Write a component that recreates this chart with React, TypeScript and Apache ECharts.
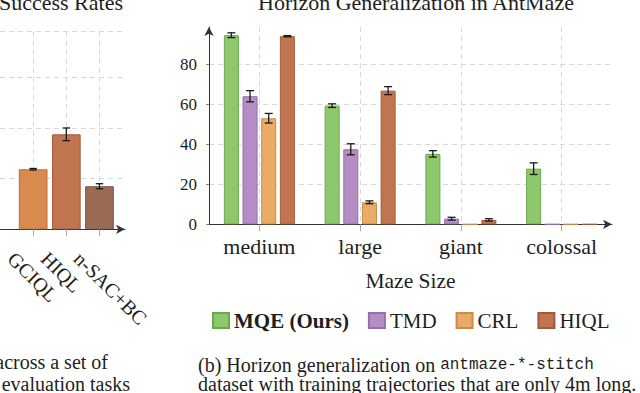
import React, { useEffect, useRef } from 'react';
import * as echarts from 'echarts';

// ---- Right panel: Horizon Generalization in AntMaze ----
const mazeSizes = ['medium', 'large', 'giant', 'colossal'];
const methods = ['MQE (Ours)', 'TMD', 'CRL', 'HIQL'];
const mqeValues = [94.5, 59.3, 35.2, 27.8];
const mqeErrors = [1.2, 0.9, 1.6, 2.9];
const tmdValues = [64.0, 37.5, 2.8, 0];
const tmdErrors = [2.8, 2.75, 0.7, 0];
const crlValues = [53.0, 11.0, 0, 0];
const crlErrors = [2.4, 0.7, 0, 0];
const hiqlValues = [94.0, 66.8, 2.2, 0];
const hiqlErrors = [0.3, 2.0, 0.6, 0];
const yTickValues = [0, 20, 40, 60, 80];
const yGridValues = [20, 40, 60, 80];

// ---- Left panel (cropped): Success Rates ----
const successMethods = ['GCIQL', 'HIQL', 'n-SAC+BC'];
const successPositions = [1, 2, 3];
const successValues = [23.7, 37.5, 17.0];
const successErrors = [0.3, 2.5, 1.0];
const successGridValues = [20, 40, 60];

const SERIF = "'Liberation Serif', 'Times New Roman', serif";
const MONO = "'Liberation Mono', 'DejaVu Sans Mono', monospace";
const TEXT = '#1e1e1e';
const GRID = '#d8d8d8';
const AXIS = '#333333';

const fills = ['#8fc86c', '#b48dc4', '#e9ab65', '#c0744f'];
const borders = ['#6aa84f', '#9370a6', '#c88c4c', '#a35a3a'];
const leftFills = ['#d98a4f', '#c0744f', '#9b6c55'];
const leftBorders = ['#b96f3a', '#a35a3a', '#7e5443'];

const BAR_W = 15;
const BAR_GAP = 0.244;

function errorRenderer(offset: number, cap: number) {
  return (params: any, api: any) => {
    const x0 = api.value(0);
    const v = api.value(1);
    const e = api.value(2);
    if (!e) return null;
    const top = api.coord([x0, v + e]);
    const bot = api.coord([x0, v - e]);
    const x = top[0] + offset;
    const style = { stroke: '#1a1a1a', lineWidth: 1.3 };
    return {
      type: 'group',
      children: [
        { type: 'line', shape: { x1: x, y1: top[1], x2: x, y2: bot[1] }, style },
        { type: 'line', shape: { x1: x - cap, y1: top[1], x2: x + cap, y2: top[1] }, style },
        { type: 'line', shape: { x1: x - cap, y1: bot[1], x2: x + cap, y2: bot[1] }, style },
      ],
    };
  };
}

export default function App() {
  const ref = useRef<HTMLDivElement>(null);

  useEffect(() => {
    if (!ref.current) return;
    const chart = echarts.init(ref.current, undefined, { renderer: 'svg' });

    const values = [mqeValues, tmdValues, crlValues, hiqlValues];
    const errors = [mqeErrors, tmdErrors, crlErrors, hiqlErrors];
    const pitch = BAR_W * (1 + BAR_GAP);

    const barSeries = methods.map((m, k) => ({
      name: m,
      type: 'bar',
      xAxisIndex: 0,
      yAxisIndex: 0,
      barWidth: BAR_W,
      barGap: `${BAR_GAP * 100}%`,
      itemStyle: { color: fills[k], borderColor: borders[k], borderWidth: 1 },
      data: values[k],
      z: 2,
    }));

    const errSeries = methods.map((m, k) => ({
      name: `err-${m}`,
      type: 'custom',
      xAxisIndex: 0,
      yAxisIndex: 0,
      z: 5,
      silent: true,
      renderItem: errorRenderer((k - 1.5) * pitch, 4),
      encode: { x: 0, y: 1 },
      data: mazeSizes.map((_, i) => [i, values[k][i], errors[k][i]]),
    }));

    const option: any = {
      animation: false,
      backgroundColor: '#ffffff',
      textStyle: { fontFamily: SERIF },
      title: [
        {
          text: 'Horizon Generalization in AntMaze',
          left: 411,
          top: -14,
          textAlign: 'center',
          textStyle: { fontFamily: SERIF, fontSize: 22, fontWeight: 'normal', color: TEXT },
        },
        {
          text: 'Success Rates',
          left: 118,
          top: -14,
          textAlign: 'right',
          textStyle: { fontFamily: SERIF, fontSize: 22, fontWeight: 'normal', color: TEXT },
        },
      ],
      legend: {
        left: 212,
        top: 310,
        padding: 0,
        itemWidth: 16,
        itemHeight: 15,
        itemGap: 19,
        icon: 'rect',
        textStyle: { fontFamily: SERIF, fontSize: 21, color: TEXT },
        data: [
          { name: 'MQE (Ours)', textStyle: { fontWeight: 'bold' } },
          'TMD',
          'CRL',
          'HIQL',
        ],
      },
      grid: [
        { left: 209, right: 28, top: 27, bottom: 168.7 },
        { left: -17, right: 515, top: 31.7, bottom: 163.7 },
      ],
      xAxis: [
        {
          type: 'category',
          gridIndex: 0,
          data: mazeSizes,
          boundaryGap: true,
          name: 'Maze Size',
          nameLocation: 'middle',
          nameGap: 46,
          nameTextStyle: { fontFamily: SERIF, fontSize: 21.5, color: TEXT },
          axisLine: {
            show: true,
            symbol: ['none', 'arrow'],
            symbolSize: [7, 9],
            lineStyle: { color: AXIS, width: 1 },
          },
          axisTick: { show: true, alignWithLabel: true, length: 7, lineStyle: { color: '#aaaaaa' } },
          axisLabel: { fontFamily: SERIF, fontSize: 22, color: TEXT, margin: 11 },
          splitLine: {
            show: true,
            alignWithLabel: true,
            lineStyle: { color: GRID, type: [5, 4], width: 1 },
          },
        },
        {
          type: 'value',
          gridIndex: 1,
          min: 0,
          max: 3.77,
          interval: 1,
          axisLine: {
            show: true,
            onZero: false,
            symbol: ['none', 'arrow'],
            symbolSize: [7, 9],
            lineStyle: { color: AXIS, width: 1 },
          },
          axisTick: { show: true, customValues: successPositions, length: 7, lineStyle: { color: '#aaaaaa' } },
          axisLabel: {
            customValues: successPositions,
            formatter: (v: number) => {
              const i = successPositions.indexOf(Math.round(v));
              return i >= 0 ? successMethods[i] : '';
            },
            rotate: -45,
            align: 'left',
            verticalAlign: 'top',
            padding: [21, 0, 0, 0],
            margin: 4,
            fontFamily: SERIF,
            fontSize: 20,
            color: TEXT,
          },
          splitLine: {
            show: true,
            customValues: successPositions,
            lineStyle: { color: GRID, type: [5, 4], width: 1 },
          },
        },
      ],
      yAxis: [
        {
          type: 'value',
          gridIndex: 0,
          min: 0,
          max: 98.6,
          interval: 20,
          axisLine: {
            show: true,
            symbol: ['none', 'arrow'],
            symbolSize: [7, 9],
            lineStyle: { color: AXIS, width: 1 },
          },
          axisTick: { show: true, customValues: yTickValues, length: 3, lineStyle: { color: '#888888' } },
          axisLabel: { customValues: yTickValues, fontFamily: SERIF, fontSize: 17, color: TEXT, margin: 12 },
          splitLine: {
            show: true,
            customValues: yGridValues,
            lineStyle: { color: GRID, type: [5, 4], width: 1 },
          },
        },
        {
          type: 'value',
          gridIndex: 1,
          min: 0,
          max: 78,
          interval: 20,
          axisLine: { show: false },
          axisTick: { show: false },
          axisLabel: { show: false },
          splitLine: {
            show: true,
            customValues: successGridValues,
            lineStyle: { color: GRID, type: [5, 4], width: 1 },
          },
        },
      ],
      series: [
        ...barSeries,
        ...errSeries,
        {
          name: 'Success Rates',
          type: 'bar',
          xAxisIndex: 1,
          yAxisIndex: 1,
          barWidth: 28.7,
          z: 2,
          data: successPositions.map((p, i) => ({
            value: [p, successValues[i]],
            itemStyle: { color: leftFills[i], borderColor: leftBorders[i], borderWidth: 1 },
          })),
        },
        {
          name: 'err-success',
          type: 'custom',
          xAxisIndex: 1,
          yAxisIndex: 1,
          z: 5,
          silent: true,
          renderItem: errorRenderer(0, 3.7),
          encode: { x: 0, y: 1 },
          data: successPositions.map((p, i) => [p, successValues[i], successErrors[i]]),
        },
      ],
      graphic: [
        {
          type: 'text',
          x: 198,
          y: 364.5,
          style: {
            text: '(b) Horizon generalization on {m|antmaze-*-stitch}',
            fontFamily: SERIF,
            fontSize: 20,
            fill: TEXT,
            verticalAlign: 'middle',
            rich: { m: { fontFamily: MONO, fontSize: 16, fill: TEXT } },
          },
        },
        {
          type: 'text',
          x: 198,
          y: 384,
          style: {
            text: 'dataset with training trajectories that are only 4m long.',
            fontFamily: SERIF,
            fontSize: 20,
            fill: TEXT,
            verticalAlign: 'middle',
          },
        },
        {
          type: 'text',
          x: 108,
          y: 361.5,
          style: {
            text: 'across a set of',
            fontFamily: SERIF,
            fontSize: 20,
            fill: TEXT,
            align: 'right',
            verticalAlign: 'middle',
          },
        },
        {
          type: 'text',
          x: 130,
          y: 384,
          style: {
            text: 'evaluation tasks',
            fontFamily: SERIF,
            fontSize: 20,
            fill: TEXT,
            align: 'right',
            verticalAlign: 'middle',
          },
        },
      ],
    };

    chart.setOption(option);
    return () => chart.dispose();
  }, []);

  return (
    <div
      ref={ref}
      style={{ position: 'absolute', left: 0, top: 0, width: 640, height: 393, background: '#ffffff' }}
    />
  );
}
